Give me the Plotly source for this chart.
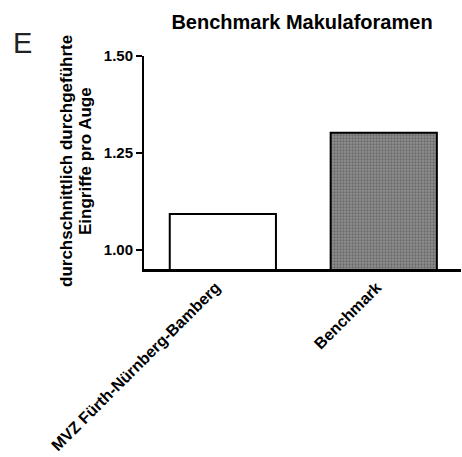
import plotly.graph_objects as go

categories = ["MVZ Fürth-Nürnberg-Bamberg", "Benchmark"]
values = [1.093, 1.302]
y_ticks = [1.00, 1.25, 1.50]
y_tick_labels = ["1.00", "1.25", "1.50"]

FONT = "Liberation Sans, Arial, sans-serif"
W, H = 462, 457
L, R, T, B = 144, 1, 56, 188
PW, PH = W - L - R, H - T - B

fig = go.Figure()
fig.add_trace(go.Bar(
    x=categories,
    y=values,
    base=0,
    width=0.66,
    marker=dict(
        color=["white", "#909090"],
        line=dict(color="black", width=2),
        pattern=dict(
            shape=["", "."],
            bgcolor=["white", "#8a8a8a"],
            fgcolor=["white", "#d4d4d4"],
            size=3,
            solidity=0.45,
        ),
    ),
    hoverinfo="skip",
))

fig.update_layout(
    width=W, height=H,
    margin=dict(l=L, r=R, t=T, b=B, autoexpand=False),
    plot_bgcolor="white", paper_bgcolor="white",
    showlegend=False,
    title=dict(
        text="<b>Benchmark Makulaforamen</b>",
        x=302 / W, xanchor="center", xref="container",
        y=1 - 22 / H, yanchor="middle", yref="container",
        font=dict(family=FONT, size=20, color="black"),
    ),
    font=dict(family=FONT, color="black"),
    xaxis=dict(
        range=[-0.49, 1.48],
        showline=True, linecolor="black", linewidth=2.5,
        ticks="", tickangle=-45,
        tickfont=dict(family=FONT, size=16, color="black"),
        ticklabelshift=-7,
        showgrid=False, zeroline=False, automargin=False,
        tickprefix="<b>", ticksuffix="</b>",
    ),
    yaxis=dict(
        range=[0.951, 1.5],
        tickvals=y_ticks, ticktext=["<b>%s</b>" % t for t in y_tick_labels],
        showline=True, linecolor="black", linewidth=2,
        ticks="outside", ticklen=6, tickwidth=2, tickcolor="black",
        tickfont=dict(family=FONT, size=15, color="black"),
        showgrid=False, zeroline=False, automargin=False,
    ),
)

# y-axis title lines
fig.add_annotation(
    text="<b>durchschnittlich durchgeführte</b>", xref="paper", yref="paper",
    x=(66 - L) / PW, y=(H - B - 161) / PH, textangle=-90,
    xanchor="center", yanchor="middle", showarrow=False,
    font=dict(family=FONT, size=17, color="black"),
)
fig.add_annotation(
    text="<b>Eingriffe pro Auge</b>", xref="paper", yref="paper",
    x=(85 - L) / PW, y=(H - B - 161) / PH, textangle=-90,
    xanchor="center", yanchor="middle", showarrow=False,
    font=dict(family=FONT, size=17, color="black"),
)

fig.add_annotation(
    text="E", xref="paper", yref="paper",
    x=(22 - L) / PW, y=(H - B - 43) / PH,
    xanchor="center", yanchor="middle", showarrow=False,
    font=dict(family="Liberation Sans Narrow, Liberation Sans, sans-serif", size=29, color="#222"),
)

fig.write_html(
    "out.html",
    config={"displayModeBar": False},
    post_script="document.body.style.margin='0';document.body.style.padding='0';",
)
